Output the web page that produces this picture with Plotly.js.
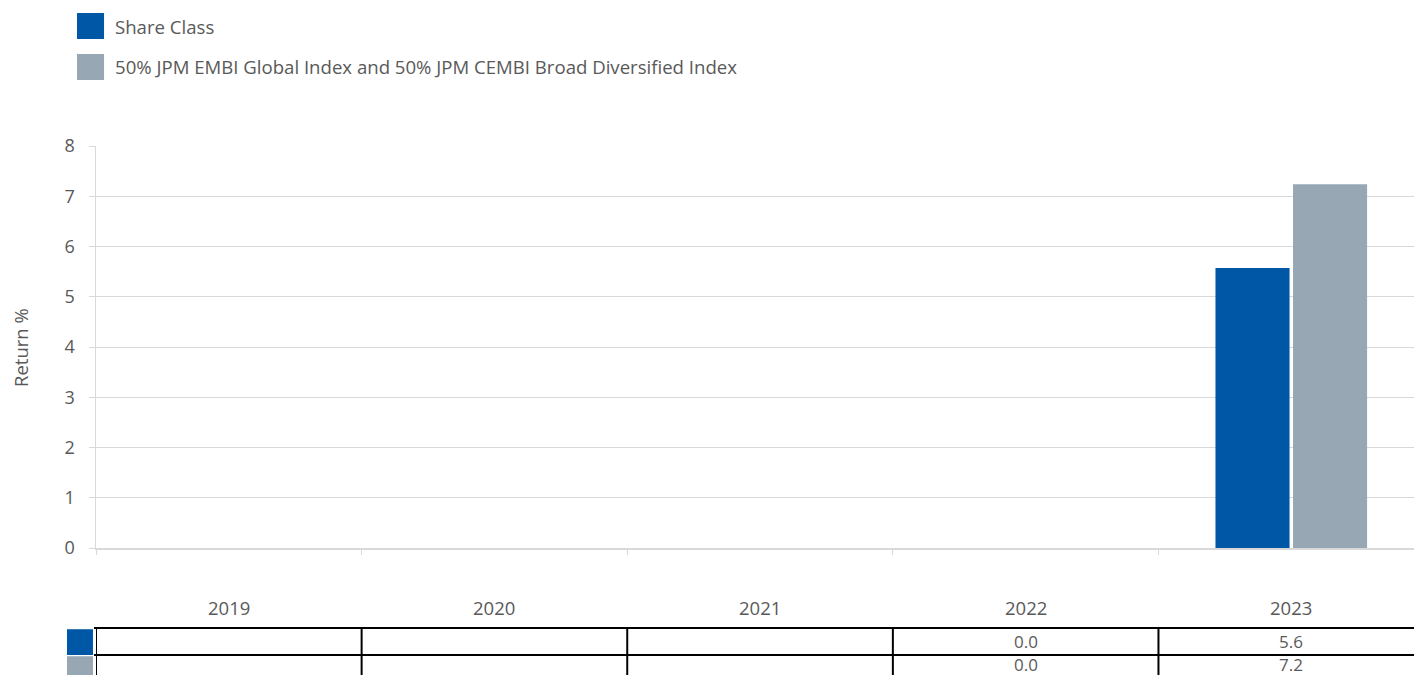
<!DOCTYPE html>
<html>
<head>
<meta charset="utf-8">
<script src="https://cdn.plot.ly/plotly-3.0.1.min.js"></script>
<style>html,body{margin:0;padding:0;background:#fff;}#chart{width:1414px;height:675px;}</style>
</head>
<body>
<div id="chart"></div>
<script>
// ---- data ----
const categories = ['2019', '2020', '2021', '2022', '2023'];
const shareClass = [null, null, null, 0.0, 5.57];
const benchmark = [null, null, null, 0.0, 7.24];
const seriesNames = ['Share Class', '50% JPM EMBI Global Index and 50% JPM CEMBI Broad Diversified Index'];
const yTicks = [0, 1, 2, 3, 4, 5, 6, 7, 8];
const yTitle = 'Return %';

// ---- styles ----
const colors = ['#0057a5', '#97a8b4'];
const txt = '#595959';
const grid = '#d9d9d9';
const FONT = '"Open Sans", sans-serif';

const traces = [shareClass, benchmark].map((vals, i) => ({
  type: 'bar', x: categories, y: vals, name: seriesNames[i],
  marker: {color: colors[i], line: {width: 0}}, showlegend: false, hoverinfo: 'skip'
}));

const shapes = [];
const annotations = [];

// legend (custom)
const legRows = [[1.3308, 1.2662], [1.2289, 1.1642]];
seriesNames.forEach((n, i) => {
  shapes.push({type: 'rect', xref: 'paper', yref: 'paper', x0: -0.0144, x1: 0.0061,
    y0: legRows[i][1], y1: legRows[i][0], fillcolor: colors[i], line: {width: 0}});
  annotations.push({xref: 'paper', yref: 'paper', x: 0.0129, y: (legRows[i][0] + legRows[i][1]) / 2,
    xanchor: 'left', yanchor: 'middle', text: n, showarrow: false, font: {size: 18.6, color: txt, family: FONT}});
});

// y title
annotations.push({xref: 'paper', yref: 'paper', x: -0.0577, y: 0.5, textangle: -90, xanchor: 'center', yanchor: 'middle',
  text: yTitle, showarrow: false, font: {size: 18.5, color: txt, family: FONT}});

// year labels + data table
const yYear = -0.1468, yTop = -0.199, yMid = -0.2662, yBot = -0.35, yRow1 = -0.2326, yRow2 = -0.2886;
categories.forEach((c, i) => {
  annotations.push({xref: 'x', yref: 'paper', x: i, y: yYear, text: c, showarrow: false,
    xanchor: 'center', yanchor: 'middle', font: {size: 18.5, color: txt, family: FONT}});
  [shareClass, benchmark].forEach((vals, r) => {
    if (vals[i] !== null) {
      annotations.push({xref: 'x', yref: 'paper', x: i, y: r === 0 ? yRow1 : yRow2,
        text: vals[i].toFixed(1), showarrow: false, xanchor: 'center', yanchor: 'middle', borderpad: 0,
        font: {size: 17, color: txt, family: FONT}});
    }
  });
  shapes.push({type: 'line', xref: 'x', yref: 'paper', x0: i - 0.5, x1: i - 0.5, y0: yTop, y1: yBot,
    line: {color: '#000', width: 2}});
});
[yTop, yMid].forEach(y => shapes.push({type: 'line', xref: 'paper', yref: 'paper', x0: -0.0015, x1: 1, y0: y, y1: y,
  line: {color: '#000', width: 2}}));
// row swatches
[[yTop, yMid], [yMid, yBot]].forEach((r, i) => shapes.push({type: 'rect', xref: 'paper', yref: 'paper',
  x0: -0.0220, x1: -0.0023, y0: r[1], y1: r[0] - 0.003, fillcolor: colors[i], line: {width: 0}}));

const layout = {
  width: 1414, height: 675,
  margin: {l: 96, r: 0, t: 146, b: 127},
  paper_bgcolor: '#fff', plot_bgcolor: '#fff',
  font: {family: FONT, color: txt},
  barmode: 'group', bargap: 0.416, bargroupgap: 0.045,
  xaxis: {type: 'category', range: [-0.5, 4.462], showticklabels: false,
    ticks: 'outside', tickson: 'boundaries', ticklen: 5, tickcolor: grid, tickwidth: 1,
    showline: true, linecolor: grid, linewidth: 2, showgrid: false, zeroline: false, fixedrange: true},
  yaxis: {range: [0, 8], tickvals: yTicks, ticktext: yTicks.map(String), ticks: 'outside', ticklen: 6,
    tickcolor: grid, tickwidth: 1, ticklabelstandoff: 10, tickfont: {size: 18, color: txt, family: FONT},
    showgrid: true, gridcolor: grid, gridwidth: 1, zeroline: false, showline: true, linecolor: grid, linewidth: 1.5,
    fixedrange: true},
  shapes: shapes, annotations: annotations, showlegend: false
};

Plotly.newPlot('chart', traces, layout, {displayModeBar: false, staticPlot: true});
</script>
</body>
</html>
